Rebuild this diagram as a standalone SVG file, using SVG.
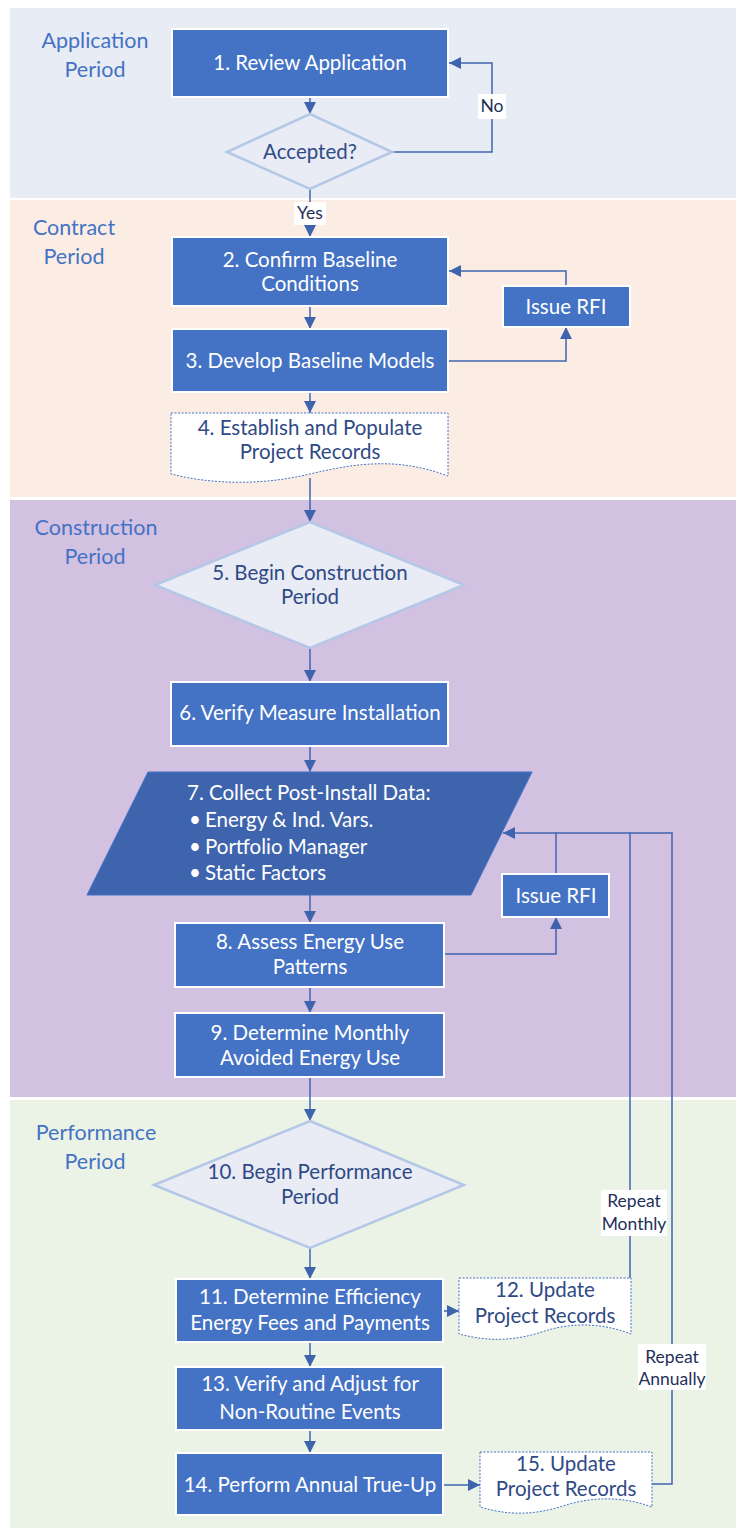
<svg xmlns="http://www.w3.org/2000/svg" width="739" height="1530" viewBox="0 0 739 1530">
<style>
text{font-family:Lato,"Liberation Sans",sans-serif;text-anchor:middle}
.band{font-size:21.5px;fill:#4472C4}
.nt{font-size:20.5px;fill:#FFFFFF}
.dt{font-size:20.5px;fill:#2F4A86}
.lb{font-size:17.5px;fill:#1F2F5A}
.box{fill:#4472C4;stroke:#FFFFFF;stroke-width:2}
.dia{fill:#E9EBF5;stroke:#B4C7E7;stroke-width:2.5}
.doc{fill:#FFFFFF;stroke:#4472C4;stroke-width:1;stroke-dasharray:2 1.5}
.con{fill:none;stroke:#3F64AE;stroke-width:1.5}
.lbg{fill:#FFFFFF}
.st{text-anchor:start}
</style>
<defs>
<marker id="ah" markerUnits="userSpaceOnUse" markerWidth="12" markerHeight="12" viewBox="0 0 12 12" refX="12" refY="6" orient="auto">
<path d="M0,0 L12,6 L0,12 Z" fill="#3F64AE"/>
</marker>
</defs>
<rect width="739" height="1530" fill="#FFFFFF"/>
<g id="bands">
<rect x="10" y="8" width="726" height="190" fill="#E8ECF5"/>
<rect x="10" y="200" width="726" height="297" fill="#FBEDE4"/>
<rect x="10" y="500" width="726" height="597" fill="#D3C1E2"/>
<rect x="10" y="1100" width="726" height="428" fill="#EBF3E6"/>
<text class="band" x="95" y="48">Application</text>
<text class="band" x="95" y="77">Period</text>
<text class="band" x="74" y="235">Contract</text>
<text class="band" x="74" y="264">Period</text>
<text class="band" x="96" y="535">Construction</text>
<text class="band" x="95" y="564">Period</text>
<text class="band" x="96" y="1140">Performance</text>
<text class="band" x="95" y="1169">Period</text>
</g>
<g id="connectors">
<path class="con" d="M310,97 V114" marker-end="url(#ah)"/>
<path class="con" d="M392,152 H492 V63 H449" marker-end="url(#ah)"/>
<path class="con" d="M310,189 V237" marker-end="url(#ah)"/>
<path class="con" d="M310,306 V329" marker-end="url(#ah)"/>
<path class="con" d="M448,361 H566 V327" marker-end="url(#ah)"/>
<path class="con" d="M566,286 V271 H449" marker-end="url(#ah)"/>
<path class="con" d="M310,392 V413" marker-end="url(#ah)"/>
<path class="con" d="M310,478 V522" marker-end="url(#ah)"/>
<path class="con" d="M310,648 V682" marker-end="url(#ah)"/>
<path class="con" d="M310,746 V772" marker-end="url(#ah)"/>
<path class="con" d="M310,895 V923" marker-end="url(#ah)"/>
<path class="con" d="M444,954 H556 V917" marker-end="url(#ah)"/>
<path class="con" d="M556,874 V833"/>
<path class="con" d="M310,987 V1013" marker-end="url(#ah)"/>
<path class="con" d="M310,1077 V1121" marker-end="url(#ah)"/>
<path class="con" d="M310,1248 V1279" marker-end="url(#ah)"/>
<path class="con" d="M443,1311 H459" marker-end="url(#ah)"/>
<path class="con" d="M630,1278 V833"/>
<path class="con" d="M310,1342 V1367" marker-end="url(#ah)"/>
<path class="con" d="M310,1430 V1453" marker-end="url(#ah)"/>
<path class="con" d="M443,1485 H480" marker-end="url(#ah)"/>
<path class="con" d="M652,1484 H672 V833 H503" marker-end="url(#ah)"/>
<rect class="lbg" x="478" y="94" width="28" height="25"/>
<text class="lb" x="492" y="112">No</text>
<rect class="lbg" x="294" y="202" width="32" height="23"/>
<text class="lb" x="310" y="219">Yes</text>
<rect class="lbg" x="601" y="1190" width="66" height="46"/>
<text class="lb" x="634" y="1207">Repeat</text>
<text class="lb" x="634" y="1230">Monthly</text>
<rect class="lbg" x="638" y="1344" width="68" height="46"/>
<text class="lb" x="672" y="1363">Repeat</text>
<text class="lb" x="672" y="1385">Annually</text>
</g>
<g id="n1"><rect class="box" x="172" y="29" width="276" height="68"/><text class="nt" x="310" y="70">1. Review Application</text></g>
<g id="d1"><path class="dia" d="M310,114 L392,152 L310,189 L227,152 Z"/><text class="dt" x="310" y="159">Accepted?</text></g>
<g id="n2"><rect class="box" x="172" y="237" width="276" height="69"/><text class="nt" x="310" y="267">2. Confirm Baseline</text><text class="nt" x="310" y="291">Conditions</text></g>
<g id="rfi1"><rect class="box" x="503" y="286" width="127" height="41"/><text class="nt" x="566" y="314">Issue RFI</text></g>
<g id="n3"><rect class="box" x="172" y="329" width="276" height="63"/><text class="nt" x="310" y="368">3. Develop Baseline Models</text></g>
<g id="n4"><path class="doc" d="M171,413 H448 V476 C400,458 360,462 310,474 C260,486 210,484 171,474 Z"/><text class="dt" x="310" y="435">4. Establish and Populate</text><text class="dt" x="310" y="459">Project Records</text></g>
<g id="d5"><path class="dia" d="M310,522 L464,585 L310,648 L155,585 Z"/><text class="dt" x="310" y="580">5. Begin Construction</text><text class="dt" x="310" y="604">Period</text></g>
<g id="n6"><rect class="box" x="171" y="682" width="277" height="64"/><text class="nt" x="310" y="720">6. Verify Measure Installation</text></g>
<g id="n7"><path d="M148,772 H532 L471,895 H87 Z" fill="#3F64AE" stroke="#4472C4" stroke-width="1"/>
<text class="nt st" x="187" y="800">7. Collect Post-Install Data:</text>
<text class="nt st" x="189" y="827">•</text><text class="nt st" x="205" y="827">Energy &amp; Ind. Vars.</text>
<text class="nt st" x="189" y="854">•</text><text class="nt st" x="205" y="854">Portfolio Manager</text>
<text class="nt st" x="189" y="880">•</text><text class="nt st" x="205" y="880">Static Factors</text></g>
<g id="rfi2"><rect class="box" x="502" y="874" width="107" height="43"/><text class="nt" x="556" y="903">Issue RFI</text></g>
<g id="n8"><rect class="box" x="175" y="923" width="269" height="64"/><text class="nt" x="310" y="949">8. Assess Energy Use</text><text class="nt" x="310" y="974">Patterns</text></g>
<g id="n9"><rect class="box" x="175" y="1013" width="269" height="64"/><text class="nt" x="310" y="1040">9. Determine Monthly</text><text class="nt" x="310" y="1065">Avoided Energy Use</text></g>
<g id="d10"><path class="dia" d="M310,1121 L464,1185 L310,1248 L154,1185 Z"/><text class="dt" x="310" y="1179">10. Begin Performance</text><text class="dt" x="310" y="1204">Period</text></g>
<g id="n11"><rect class="box" x="176" y="1279" width="267" height="63"/><text class="nt" x="310" y="1304">11. Determine Efficiency</text><text class="nt" x="310" y="1330">Energy Fees and Payments</text></g>
<g id="n12"><path class="doc" d="M459,1278 H631 V1334 C600,1322 570,1323 545,1331 C515,1341 490,1342 459,1334 Z"/><text class="dt" x="545" y="1297">12. Update</text><text class="dt" x="545" y="1323">Project Records</text></g>
<g id="n13"><rect class="box" x="176" y="1367" width="267" height="63"/><text class="nt" x="310" y="1391">13. Verify and Adjust for</text><text class="nt" x="310" y="1419">Non-Routine Events</text></g>
<g id="n14"><rect class="box" x="176" y="1453" width="267" height="62"/><text class="nt" x="310" y="1492">14. Perform Annual True-Up</text></g>
<g id="n15"><path class="doc" d="M480,1452 H652 V1507 C622,1496 592,1497 566,1505 C536,1515 510,1516 480,1507 Z"/><text class="dt" x="566" y="1471">15. Update</text><text class="dt" x="566" y="1496">Project Records</text></g>
</svg>
